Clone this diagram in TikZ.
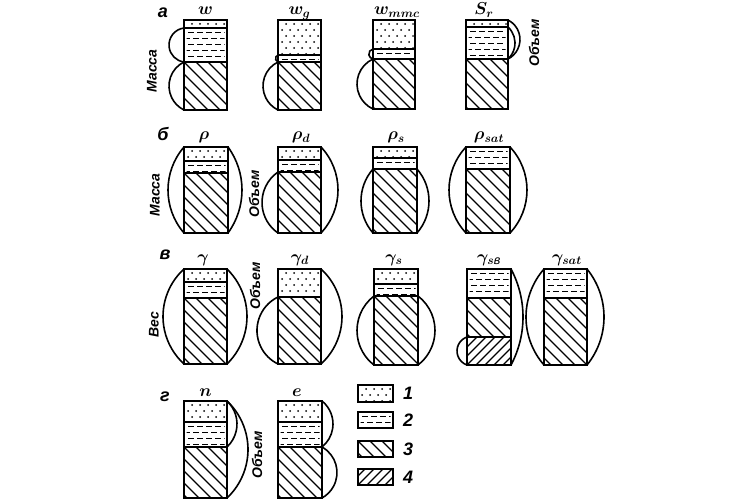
\documentclass[tikz,border=0pt]{standalone}
\usepackage{amsmath}
\usepackage{fontspec}
\setmainfont{Liberation Sans}
\usetikzlibrary{positioning}

% fills of the soil layers
\newcommand{\air}[4]{%
  \begin{scope}
    \clip (#1+1.5,#2+1.5) rectangle (#3-1.5,#4-1.5);
    \foreach \v [count=\k] in {4,10,...,40} {
      \pgfmathsetmacro\off{mod(\k,2)*4}
      \foreach \u in {0,8,...,40}
        \fill (#1+4+\u+\off,#2+\v) circle (1pt);
    }
  \end{scope}
  \draw[box] (#1,#2) rectangle (#3,#4);}
\newcommand{\water}[4]{%
  \begin{scope}
    \clip (#1+2.5,#2+1.5) rectangle (#3-2.5,#4-1.5);
    \foreach \v [count=\k] in {4,10,...,40} {
      \pgfmathsetmacro\ph{mod(\k,2)*5}
      \draw[wet] (#1-\ph,#2+\v) -- (#3,#2+\v);
    }
  \end{scope}
  \draw[box] (#1,#2) rectangle (#3,#4);}
\newcommand{\soil}[4]{%
  \begin{scope}
    \clip (#1,#2) rectangle (#3,#4);
    \foreach \sh in {-96,-84,...,48}
      \draw[hatch] (#1+\sh,#2) -- ++(110,110);
  \end{scope}
  \draw[box] (#1,#2) rectangle (#3,#4);}
\newcommand{\subm}[4]{%
  \begin{scope}
    \clip (#1,#2) rectangle (#3,#4);
    \foreach \sh in {-45,-36,...,50}
      \draw[hatch] (#1+\sh,#4) -- ++(60,-60);
  \end{scope}
  \draw[box] (#1,#2) rectangle (#3,#4);}
% arcs: x, top, bottom, bulge
\newcommand{\larc}[4]{%
  \pgfmathsetmacro\hc{(#3-#2)/2}
  \pgfmathsetmacro\rr{(\hc*\hc+#4*#4)/(2*#4)}
  \pgfmathsetmacro\al{asin(\hc/\rr)}
  \draw[bow] (#1,#2) arc[start angle=180+\al, end angle=180-\al, radius=\rr];}
\newcommand{\rarc}[4]{%
  \pgfmathsetmacro\hc{(#3-#2)/2}
  \pgfmathsetmacro\rr{(\hc*\hc+#4*#4)/(2*#4)}
  \pgfmathsetmacro\al{asin(\hc/\rr)}
  \draw[bow] (#1,#2) arc[start angle=-\al, end angle=\al, radius=\rr];}

\tikzset{
  box/.style={line width=1.9pt, line join=miter},
  hatch/.style={line width=1.1pt},
  wet/.style={line width=0.9pt, dash pattern=on 6pt off 3pt},
  bow/.style={line width=1.6pt},
  lab/.style={inner sep=0pt, anchor=base, font=\fontsize{18}{18}\selectfont\boldmath},
  word/.style={inner sep=0pt, rotate=90, font=\fontsize{14}{14}\selectfont\bfseries\itshape},
  row/.style={inner sep=0pt, font=\fontsize{18}{18}\selectfont\bfseries\itshape}
}

\begin{document}
\begin{tikzpicture}[x=1pt, y=-1pt]
  \useasboundingbox (0,0) rectangle (745,500);

  % row a
  \air{184}{20}{227}{28} \water{184}{28}{227}{62} \soil{184}{62}{227}{110}
  \larc{184}{28}{62}{15} \larc{184}{62}{110}{15}
  \air{278}{20}{321}{55} \water{278}{55}{321}{62} \soil{278}{62}{321}{110}
  \larc{278}{55}{62}{5} \larc{278}{62}{110}{15}
  \air{373}{20}{415}{49} \water{373}{49}{415}{59} \soil{373}{59}{415}{109}
  \larc{373}{49}{59}{6} \larc{373}{59}{109}{16}
  \air{466}{20}{508}{27} \water{466}{27}{508}{59} \soil{466}{59}{508}{109}
  \rarc{508}{20}{59}{12} \rarc{508}{27}{59}{7}
  \coordinate (w) at (205.5,20);
  \coordinate (wg) at (299.5,20);
  \coordinate (wm) at (397,20);
  \coordinate (sr) at (484,20);
  \node[lab] (lw) at ([yshift=5pt]w) {$w$};
  \node[lab] (lwg) at ([yshift=5pt]wg) {$w_g$};
  \node[lab] (lwm) at ([yshift=5pt]wm) {$w_{mmc}$};
  \node[lab] (lsr) at ([yshift=5pt]sr) {$S_r$};
  \node[row] (ra) at (163,13) {а};
  \node[word] (m1) at (152,71) {Масса};
  \node[word] (v1) at (534,43) {Объем};

  % row b
  \air{184}{147}{228}{161} \water{184}{161}{228}{173} \soil{184}{173}{228}{233}
  \larc{184}{147}{233}{16} \rarc{228}{147}{233}{14}
  \air{278}{147}{321}{160} \water{278}{160}{321}{172} \soil{278}{172}{321}{233}
  \larc{278}{172}{233}{16} \rarc{321}{147}{233}{17}
  \air{373}{147}{417}{158} \water{373}{158}{417}{169} \soil{373}{169}{417}{233}
  \larc{373}{169}{233}{12} \rarc{417}{169}{233}{12}
  \water{466}{147}{510}{169} \soil{466}{169}{510}{233}
  \larc{466}{147}{233}{17} \rarc{510}{147}{233}{17}
  \coordinate (rho) at (204,147);
  \coordinate (rhod) at (301,147);
  \coordinate (rhos) at (396,147);
  \coordinate (rhosat) at (489,147);
  \node[lab] (lrho) at ([yshift=7pt]rho) {$\rho$};
  \node[lab] (lrhod) at ([yshift=7pt]rhod) {$\rho_d$};
  \node[lab] (lrhos) at ([yshift=7pt]rhos) {$\rho_s$};
  \node[lab] (lrhosat) at ([yshift=7pt]rhosat) {$\rho_{sat}$};
  \node[row] (rb) at (163,134) {б};
  \node[word] (m2) at (155,195) {Масса};
  \node[word] (v2) at (254,194) {Объем};

  % row v
  \air{184}{269}{227}{282} \water{184}{282}{227}{298} \soil{184}{298}{227}{364}
  \larc{184}{269}{364}{21} \rarc{227}{269}{364}{20}
  \air{278}{269}{321}{297} \soil{278}{297}{321}{364}
  \larc{278}{297}{364}{21} \rarc{321}{269}{364}{21}
  \air{374}{269}{418}{284} \water{374}{284}{418}{296} \soil{374}{296}{418}{365}
  \larc{374}{296}{365}{17} \rarc{418}{296}{365}{17}
  \water{467}{269}{511}{298} \soil{467}{298}{511}{337} \subm{467}{337}{511}{365}
  \larc{467}{337}{365}{10} \rarc{511}{269}{365}{12}
  \water{544}{269}{587}{298} \soil{544}{298}{587}{365}
  \larc{544}{269}{365}{18} \rarc{587}{269}{365}{17}
  \coordinate (gam) at (203,269);
  \coordinate (gamd) at (300,269);
  \coordinate (gams) at (394,269);
  \coordinate (gamsb) at (489,269);
  \coordinate (gamsat) at (567,269);
  \node[lab] (lgam) at ([yshift=7pt]gam) {$\gamma$};
  \node[lab] (lgamd) at ([yshift=7pt]gamd) {$\gamma_d$};
  \node[lab] (lgams) at ([yshift=7pt]gams) {$\gamma_s$};
  \node[lab] (lgamsb) at ([yshift=7pt]gamsb) {$\gamma_{s\text{\itshape в}}$};
  \node[lab] (lgamsat) at ([yshift=7pt]gamsat) {$\gamma_{sat}$};
  \node[row] (rv) at (165,255) {в};
  \node[word] (m3) at (154,325) {Вес};
  \node[word] (v3) at (255,286) {Объем};

  % row g
  \air{184}{401}{227}{422} \water{184}{422}{227}{447} \soil{184}{447}{227}{498}
  \rarc{227}{401}{447}{10} \rarc{227}{401}{498}{21}
  \air{278}{401}{322}{422} \water{278}{422}{322}{447} \soil{278}{447}{322}{498}
  \rarc{322}{401}{447}{11} \rarc{322}{447}{498}{15}
  \coordinate (por) at (205.5,401);
  \coordinate (eps) at (297,401);
  \node[lab] (lpor) at ([yshift=5pt]por) {$n$};
  \node[lab] (leps) at ([yshift=5pt]eps) {$e$};
  \node[row] (rg) at (165,397) {г};
  \node[word] (v4) at (257,455) {Объем};

  % legend
  \air{358}{385}{393}{402} \water{358}{412}{393}{428}
  \soil{358}{441}{393}{457} \subm{358}{469}{393}{485}
  \foreach \y [count=\i] in {393,420,449,477}
    \node[row, right=10pt] (k\i) at (393,\y) {\i};
\end{tikzpicture}
\end{document}
